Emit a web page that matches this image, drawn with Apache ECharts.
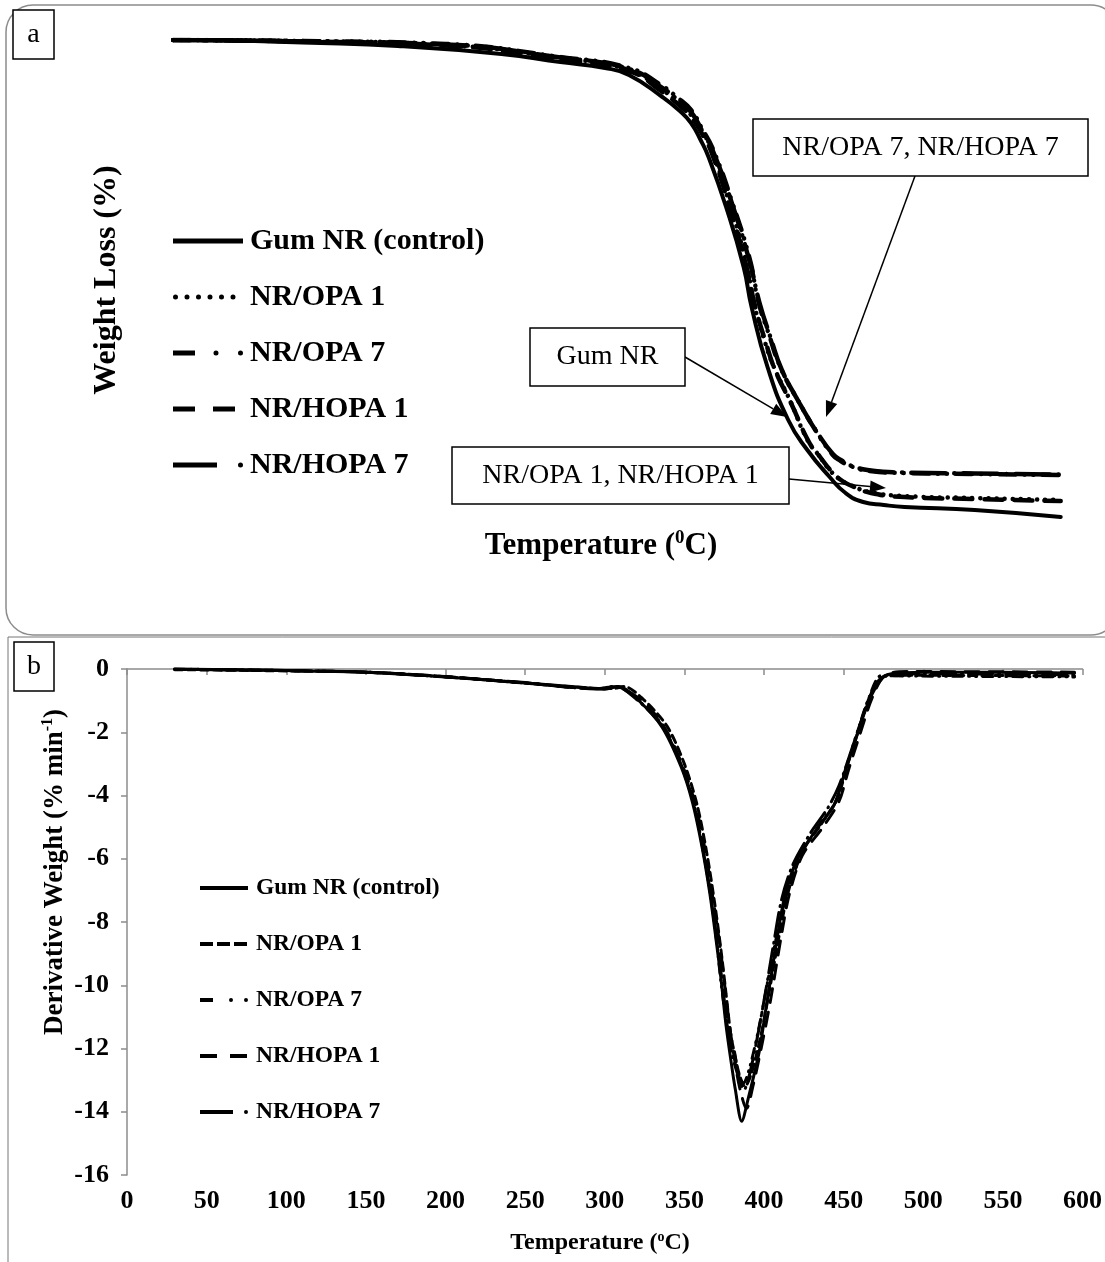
<!DOCTYPE html>
<html>
<head>
<meta charset="utf-8">
<title>TGA / DTG</title>
<script src="https://cdn.jsdelivr.net/npm/echarts@6/dist/echarts.min.js"></script>
<style>
  html, body { margin: 0; padding: 0; background: #fff; }
  #TgaChart { width: 1105px; height: 1262px; }
</style>
</head>
<body>
<div id="TgaChart"></div>
<script>
const seriesNames = ['Gum NR (control)', 'NR/OPA 1', 'NR/OPA 7', 'NR/HOPA 1', 'NR/HOPA 7']

// (a) weight loss curves, [temperature, %]
const tgaGum = [[29, 100], [80, 99.8], [110, 99.5], [170, 98.8], [235, 97.2], [272, 95.6], [300, 94.4], [315, 93], [336, 88.6], [347, 85.8], [354, 83.4], [360, 80], [365, 76.6], [376, 66.6], [387, 54.6], [392, 46.6], [402, 34.6], [415, 24], [427, 18], [441, 12.6], [451, 9.4], [462, 7.6], [475, 7], [488, 6.6], [532, 6], [586, 4.6]]
const tgaOpa1 = [[29, 100], [110, 99.8], [200, 99], [272, 96.4], [315, 94], [336, 90], [345, 87.8], [354, 85], [361, 81.8], [367, 78], [378, 67.4], [389, 55], [393, 48], [400, 40], [406, 34.6], [416, 28], [427, 20], [434, 17], [441, 14], [448, 12], [454, 11], [466, 9.6], [488, 8.8], [532, 8.4], [586, 8]]
const tgaOpa7 = [[29, 100], [110, 99.8], [200, 99.2], [272, 96.6], [315, 94.4], [336, 90.8], [345, 88.6], [354, 86], [361, 82.2], [368, 78], [380, 67.4], [391, 56], [396, 48], [403, 41], [410, 34.6], [421, 28], [432, 22], [443, 17], [448, 15.8], [454, 14.8], [466, 13.8], [488, 13.4], [532, 13.2], [586, 13]]
const tgaHopa1 = [[29, 100], [110, 99.7], [200, 98.9], [272, 96.2], [315, 93.8], [336, 89.6], [345, 87.4], [354, 84.6], [361, 81.2], [367, 77.4], [378, 66.8], [389, 54.4], [394, 47], [401, 39.4], [407, 33.8], [417, 27.2], [428, 19.6], [435, 16.6], [442, 13.8], [449, 11.8], [455, 10.8], [467, 9.4], [488, 8.6], [532, 8.2], [586, 7.8]]
const tgaHopa7 = [[29, 100], [110, 99.7], [200, 99.1], [272, 96.5], [315, 94.2], [336, 90.4], [345, 88.2], [354, 85.6], [361, 81.8], [368, 77.6], [380, 67], [391, 55.4], [397, 47.4], [404, 40.4], [411, 34], [422, 27.4], [433, 21.6], [443, 17.2], [449, 15.8], [455, 14.8], [467, 13.9], [488, 13.5], [532, 13.3], [586, 13.1]]

// (b) derivative weight curves, [temperature, % min-1]
const dtgGum = [[30, 0], [60, -0.02], [100, -0.05], [150, -0.1], [200, -0.25], [240, -0.4], [265, -0.5], [285, -0.58], [299, -0.64], [309, -0.55], [321, -0.98], [336, -1.84], [348, -3.1], [355, -4.2], [361, -5.6], [366, -7.1], [370, -8.6], [373, -9.8], [376, -11.2], [379, -12.3], [382, -13.3], [386, -14.3], [390, -13.6], [397, -12.1], [401, -10.8], [408, -8.6], [413, -7.2], [421, -6], [434, -5], [444, -4.3], [450, -3.4], [457, -2.3], [466, -1], [474, -0.3], [480, -0.15], [500, -0.1], [550, -0.1], [595, -0.13]]
const dtgOpa1 = [[30, -0.02], [100, -0.06], [150, -0.1], [200, -0.24], [250, -0.45], [290, -0.6], [305, -0.62], [312, -0.55], [324, -0.95], [339, -1.8], [350, -3], [358, -4.3], [364, -5.8], [369, -7.4], [373, -8.9], [376, -10.2], [379, -11.5], [382, -12.3], [385, -12.9], [388, -13.2], [392, -12.8], [398, -11.6], [404, -10], [410, -8.3], [416, -6.9], [425, -5.7], [436, -4.9], [446, -4.1], [452, -3.1], [459, -2], [467, -0.8], [475, -0.25], [490, -0.2], [595, -0.22]]
const dtgOpa7 = [[30, 0], [100, -0.05], [150, -0.1], [200, -0.25], [250, -0.44], [295, -0.62], [307, -0.55], [320, -0.95], [335, -1.7], [347, -2.9], [355, -4.1], [361, -5.5], [366, -7], [370, -8.5], [373, -9.9], [376, -11], [379, -11.8], [381, -12], [384, -12.8], [387, -13.1], [391, -12.6], [397, -11.3], [403, -9.7], [409, -8.2], [415, -7], [424, -5.8], [435, -4.9], [445, -4.2], [451, -3.2], [458, -2.1], [466, -0.9], [474, -0.2], [490, -0.22], [595, -0.25]]
const dtgHopa1 = [[30, -0.01], [100, -0.05], [150, -0.1], [200, -0.24], [250, -0.44], [295, -0.62], [306, -0.56], [322, -0.95], [337, -1.8], [350, -3.2], [358, -4.5], [364, -6], [369, -7.6], [373, -9], [376, -10.3], [379, -11.5], [382, -12.5], [385, -13.3], [389, -13.9], [393, -13.2], [399, -11.8], [404, -10.5], [411, -8.4], [416, -7.1], [424, -5.9], [437, -5], [447, -4.2], [453, -3.2], [460, -2.1], [468, -0.9], [476, -0.2], [490, -0.08], [595, -0.1]]
const dtgHopa7 = [[30, 0], [100, -0.05], [150, -0.1], [200, -0.25], [250, -0.43], [295, -0.63], [307, -0.55], [320, -0.96], [336, -1.8], [348, -3.05], [356, -4.3], [362, -5.8], [367, -7.3], [371, -8.8], [374, -10], [377, -11.3], [380, -12.2], [384, -12.9], [387.5, -13.3], [391, -12.8], [396, -11.6], [401, -10.2], [406, -8.7], [411, -7.3], [418, -6.2], [429, -5.2], [440, -4.4], [447, -3.7], [454, -2.7], [462, -1.5], [470, -0.5], [478, -0.18], [500, -0.15], [595, -0.18]]

const tempTicks = [0, 50, 100, 150, 200, 250, 300, 350, 400, 450, 500, 550, 600]
const dtgTicks = [-16, -14, -12, -10, -8, -6, -4, -2, 0]

const serif = "'Liberation Serif', 'Times New Roman', serif"

// dash patterns, panel a then panel b
const tgaDash = ['solid', [0.1, 8], [16, 9, 0.1, 9, 0.1, 9], [18, 12], [34, 9, 0.1, 9]]
const dtgDash = ['solid', [8, 5], [10, 6, 1, 6, 1, 6], [14, 10], [24, 6, 1, 6]]

// legend glyphs drawn as paths (tiny square at the end keeps the full width)
const dot = (cx, cy, r) => `M${cx - r},${cy}a${r},${r} 0 1,0 ${2 * r},0a${r},${r} 0 1,0 ${-2 * r},0Z`
const tick = (x, y) => `M${x - 0.01},${y}h0.01v0.01h-0.01Z`
const tgaIcons = [
  'path://M0,0H70V5H0Z',
  'path://' + [2.5, 14, 25.5, 37, 48.5, 60].map(c => dot(c, 2.5, 2.5)).join('') + tick(70, 2.5),
  'path://M0,0h22v5h-22Z' + dot(43, 2.5, 2.5) + dot(67.5, 2.5, 2.5),
  'path://M0,0h22v5h-22ZM40,0h22v5h-22Z' + tick(70, 2.5),
  'path://M0,0h44v5h-44Z' + dot(67.5, 2.5, 2.5)
]
const dtgIcons = [
  'path://M0,0H48V4H0Z',
  'path://M0,0h13v4h-13ZM17,0h13v4h-13ZM34,0h13v4h-13Z' + tick(48, 2),
  'path://M0,0h13v4h-13Z' + dot(31, 2, 2) + dot(46, 2, 2),
  'path://M0,0h17v4h-17ZM30,0h17v4h-17Z' + tick(48, 2),
  'path://M0,0h33v4h-33Z' + dot(46, 2, 2)
]

const arrow = (x1, y1, x2, y2) => {
  const len = Math.hypot(x2 - x1, y2 - y1)
  const ux = (x2 - x1) / len
  const uy = (y2 - y1) / len
  const hl = 16
  const hw = 6
  const bx = x2 - ux * hl
  const by = y2 - uy * hl
  return [
    { type: 'line', shape: { x1: x1, y1: y1, x2: bx, y2: by }, style: { stroke: '#000', lineWidth: 1.5 } },
    {
      type: 'polygon',
      shape: { points: [[x2, y2], [bx - uy * hw, by + ux * hw], [bx + uy * hw, by - ux * hw]] },
      style: { fill: '#000' }
    }
  ]
}

const labelBox = (x, y, w, h, text, size) => [
  { type: 'rect', shape: { x: x, y: y, width: w, height: h }, style: { fill: '#fff', stroke: '#000', lineWidth: 1.5 } },
  {
    type: 'text', x: x + w / 2, y: y + h / 2,
    style: { text: text, fontFamily: serif, fontSize: size, fill: '#000', align: 'center', verticalAlign: 'middle' }
  }
]

const change = () => {
  const chartBox = echarts.init(document.getElementById('TgaChart'))
  const tgaData = [tgaGum, tgaOpa1, tgaOpa7, tgaHopa1, tgaHopa7]
  const dtgData = [dtgGum, dtgOpa1, dtgOpa7, dtgHopa1, dtgHopa7]

  const series = []
  seriesNames.forEach((name, i) => {
    series.push({
      name: name,
      type: 'line',
      xAxisIndex: 0,
      yAxisIndex: 0,
      data: tgaData[i],
      showSymbol: false,
      smooth: 0.5,
      color: '#000',
      lineStyle: { color: '#000', width: i === 0 ? 4 : 4.5, type: tgaDash[i], cap: 'round' },
      z: 5 - i
    })
  })
  seriesNames.forEach((name, i) => {
    series.push({
      name: name,
      type: 'line',
      xAxisIndex: 1,
      yAxisIndex: 1,
      data: dtgData[i],
      showSymbol: false,
      smooth: 0.3,
      color: '#000',
      lineStyle: { color: '#000', width: 3, type: dtgDash[i], cap: 'round' },
      z: 5 - i
    })
  })

  const axisGrey = { color: '#8c8c8c', width: 1.5 }
  const tickFont = { fontFamily: serif, fontWeight: 'bold', fontSize: 26, color: '#000' }

  const option = {
    backgroundColor: '#fff',
    animation: false,
    grid: [
      { left: 127, right: 22, top: 40, height: 500 },
      { left: 127, right: 22, top: 669, height: 506 }
    ],
    xAxis: [
      { gridIndex: 0, type: 'value', min: tempTicks[0], max: tempTicks[tempTicks.length - 1], show: false },
      {
        gridIndex: 1,
        type: 'value',
        min: tempTicks[0],
        max: tempTicks[tempTicks.length - 1],
        interval: tempTicks[1] - tempTicks[0],
        axisLine: { lineStyle: axisGrey },
        axisTick: { length: 6, lineStyle: axisGrey },
        axisLabel: Object.assign({ margin: 13 }, tickFont),
        splitLine: { show: false }
      }
    ],
    yAxis: [
      { gridIndex: 0, type: 'value', min: 0, max: 100, show: false },
      {
        gridIndex: 1,
        type: 'value',
        min: dtgTicks[0],
        max: dtgTicks[dtgTicks.length - 1],
        interval: dtgTicks[1] - dtgTicks[0],
        axisLine: { show: true, lineStyle: axisGrey },
        axisTick: { show: true, length: 6, lineStyle: axisGrey },
        axisLabel: Object.assign({ margin: 18 }, tickFont),
        splitLine: { show: false }
      }
    ],
    legend: [
      {
        orient: 'vertical',
        left: 173,
        top: 226,
        padding: 0,
        itemWidth: 70,
        itemHeight: 5,
        itemGap: 26,
        selectedMode: false,
        itemStyle: { borderWidth: 0 },
        textStyle: { fontFamily: serif, fontWeight: 'bold', fontSize: 30, color: '#000', padding: [0, 0, 0, 2] },
        data: seriesNames.map((n, i) => ({ name: n, icon: tgaIcons[i] }))
      },
      {
        orient: 'vertical',
        left: 200,
        top: 876,
        padding: 0,
        itemWidth: 48,
        itemHeight: 4,
        itemGap: 32,
        selectedMode: false,
        itemStyle: { borderWidth: 0 },
        textStyle: { fontFamily: serif, fontWeight: 'bold', fontSize: 23.5, color: '#000', padding: [0, 0, 0, 3] },
        data: seriesNames.map((n, i) => ({ name: n, icon: dtgIcons[i] }))
      }
    ],
    graphic: [
      // panel frames
      { type: 'rect', shape: { x: 6, y: 5, width: 1112, height: 630, r: 27 }, style: { fill: 'none', stroke: '#8c8c8c', lineWidth: 1.5 }, z: -1 },
      { type: 'rect', shape: { x: 8, y: 637, width: 1110, height: 640 }, style: { fill: 'none', stroke: '#777', lineWidth: 1 }, z: -1 },
      ...labelBox(13, 10, 41, 49, 'a', 28),
      ...labelBox(14, 642, 40, 49, 'b', 28),
      // panel a titles
      {
        type: 'text', x: 107, y: 280, rotation: Math.PI / 2,
        style: { text: 'Weight Loss (%)', fontFamily: serif, fontWeight: 'bold', fontSize: 32, fill: '#000', align: 'center', verticalAlign: 'middle' }
      },
      {
        type: 'text', x: 601, y: 546,
        style: {
          text: '{t|Temperature (}{s|0}{t|C)}',
          align: 'center',
          verticalAlign: 'middle',
          rich: {
            t: { fontFamily: serif, fontWeight: 'bold', fontSize: 31, fill: '#000', lineHeight: 34 },
            s: { fontFamily: serif, fontWeight: 'bold', fontSize: 19, fill: '#000', verticalAlign: 'top', lineHeight: 19 }
          }
        }
      },
      // panel b titles
      {
        type: 'text', x: 600, y: 1243,
        style: {
          text: '{t|Temperature (}{s|o}{t|C)}',
          align: 'center',
          verticalAlign: 'middle',
          rich: {
            t: { fontFamily: serif, fontWeight: 'bold', fontSize: 24, fill: '#000', lineHeight: 26 },
            s: { fontFamily: serif, fontWeight: 'bold', fontSize: 14, fill: '#000', verticalAlign: 'top', lineHeight: 14 }
          }
        }
      },
      {
        type: 'text', x: 55, y: 872, rotation: Math.PI / 2,
        style: {
          text: '{t|Derivative Weight (% min}{s|-1}{t|)}',
          align: 'center',
          verticalAlign: 'middle',
          rich: {
            t: { fontFamily: serif, fontWeight: 'bold', fontSize: 27, fill: '#000', lineHeight: 30 },
            s: { fontFamily: serif, fontWeight: 'bold', fontSize: 16, fill: '#000', verticalAlign: 'top', lineHeight: 16 }
          }
        }
      },
      // callouts in panel a
      ...arrow(915, 176, 826, 417),
      ...arrow(685, 357, 787, 417),
      ...arrow(789, 479, 886, 488),
      ...labelBox(753, 119, 335, 57, 'NR/OPA 7, NR/HOPA 7', 28),
      ...labelBox(530, 328, 155, 58, 'Gum NR', 28),
      ...labelBox(452, 447, 337, 57, 'NR/OPA 1, NR/HOPA 1', 28)
    ],
    series: series
  }
  chartBox.setOption(option, true)
  window.addEventListener('resize', function () {
    chartBox.resize()
  })
}

change()
</script>
</body>
</html>
